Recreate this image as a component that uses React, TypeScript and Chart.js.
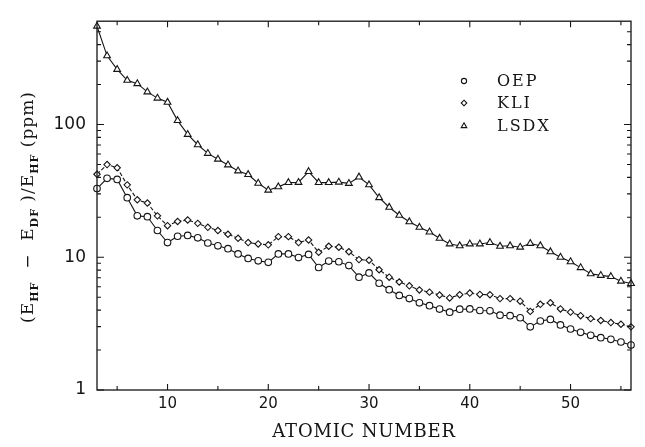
import React, { useEffect, useRef } from 'react';
import { Chart, registerables } from 'chart.js';

Chart.register(...registerables);

// ---------- data ----------
const atomicNumbers = [
  3, 4, 5, 6, 7, 8, 9, 10, 11, 12, 13, 14, 15, 16, 17, 18, 19, 20, 21, 22, 23, 24, 25, 26, 27, 28, 29,
  30, 31, 32, 33, 34, 35, 36, 37, 38, 39, 40, 41, 42, 43, 44, 45, 46, 47, 48, 49, 50, 51, 52, 53, 54, 55, 56,
];

const oepValues = [
  32.9, 39.3, 38.6, 28.1, 20.5, 20.2, 15.9, 12.9, 14.4, 14.6, 14.0, 12.8, 12.2, 11.6, 10.6, 9.8, 9.4, 9.16,
  10.6, 10.6, 9.95, 10.5, 8.37, 9.35, 9.25, 8.65, 7.08, 7.62, 6.37, 5.7, 5.16, 4.88, 4.54, 4.32, 4.07, 3.86,
  4.06, 4.08, 3.97, 3.95, 3.66, 3.63, 3.5, 2.99, 3.31, 3.4, 3.09, 2.88, 2.72, 2.58, 2.48, 2.41, 2.3, 2.18,
];

const kliValues = [
  42.2, 49.9, 47.2, 35.1, 27.1, 25.6, 20.5, 17.3, 18.6, 19.1, 18.0, 16.8, 15.9, 14.9, 13.9, 12.9, 12.6, 12.4,
  14.3, 14.3, 12.9, 13.5, 10.9, 12.1, 11.9, 11.0, 9.6, 9.5, 8.05, 7.08, 6.51, 6.09, 5.67, 5.46, 5.19, 4.94,
  5.22, 5.37, 5.25, 5.22, 4.88, 4.88, 4.67, 3.91, 4.42, 4.54, 4.08, 3.86, 3.63, 3.45, 3.34, 3.22, 3.13, 2.99,
];

const lsdxValues = [
  550, 329, 260, 215, 203, 176, 158, 147, 107, 84.2, 70.4, 60.6, 54.8, 49.6, 44.7, 42.0, 36.1, 32.0,
  33.9, 36.5, 36.6, 44.2, 36.5, 36.5, 36.8, 36.0, 40.2, 35.1, 28.1, 23.8, 20.7, 18.5, 16.8, 15.5, 13.9, 12.6,
  12.2, 12.6, 12.6, 12.9, 12.1, 12.2, 11.9, 12.7, 12.2, 11.0, 10.0, 9.25, 8.35, 7.5, 7.3, 7.15, 6.6, 6.34,
];

const seriesNames = ['OEP', 'KLI', 'LSDX'];

const xTickLabels = [10, 20, 30, 40, 50];
const xMinorTicks = [5, 15, 25, 35, 45, 55];
const yTickLabels = [1, 10, 100];
const yMinorTicks = [2, 3, 4, 5, 6, 7, 8, 9, 20, 30, 40, 50, 60, 70, 80, 90, 200, 300, 400, 500];

const xTitle = 'ATOMIC NUMBER';

const INK = '#151515';

function drawMarker(ctx: CanvasRenderingContext2D, style: string, x: number, y: number, r: number) {
  ctx.beginPath();
  if (style === 'circle') {
    ctx.arc(x, y, r, 0, Math.PI * 2);
  } else if (style === 'rectRot') {
    ctx.moveTo(x, y - r);
    ctx.lineTo(x + r, y);
    ctx.lineTo(x, y + r);
    ctx.lineTo(x - r, y);
    ctx.closePath();
  } else {
    const s = Math.sin(Math.PI / 3) * r;
    ctx.moveTo(x, y - r);
    ctx.lineTo(x + s, y + r / 2);
    ctx.lineTo(x - s, y + r / 2);
    ctx.closePath();
  }
  ctx.fillStyle = '#fff';
  ctx.fill();
  ctx.stroke();
}

const decorPlugin = {
  id: 'decor',
  afterDatasetsDraw(chart: any) {
    const ctx: CanvasRenderingContext2D = chart.ctx;
    const { left, right, top, bottom } = chart.chartArea;
    const xs = chart.scales.x;
    const ys = chart.scales.y;
    ctx.save();
    ctx.strokeStyle = INK;
    ctx.lineWidth = 1.3;
    ctx.strokeRect(left, top, right - left, bottom - top);
    ctx.lineWidth = 1.1;
    ctx.beginPath();
    const xt = (v: number, len: number) => {
      const px = xs.getPixelForValue(v);
      ctx.moveTo(px, bottom);
      ctx.lineTo(px, bottom - len);
      ctx.moveTo(px, top);
      ctx.lineTo(px, top + len);
    };
    const yt = (v: number, len: number) => {
      const py = ys.getPixelForValue(v);
      ctx.moveTo(left, py);
      ctx.lineTo(left + len, py);
      ctx.moveTo(right, py);
      ctx.lineTo(right - len, py);
    };
    xTickLabels.forEach((v) => xt(v, 6));
    xMinorTicks.forEach((v) => xt(v, 4));
    yTickLabels.forEach((v) => yt(v, 7));
    yMinorTicks.forEach((v) => yt(v, 4));
    ctx.stroke();
    ctx.restore();
  },
  afterDraw(chart: any) {
    const ctx: any = chart.ctx;
    const { left, right } = chart.chartArea;
    ctx.save();
    ctx.fillStyle = INK;
    ctx.strokeStyle = INK;

    // legend
    const styles = ['circle', 'rectRot', 'triangle'];
    const radii = [2.6, 2.8, 3.2];
    const legY = [81, 103, 126];
    ctx.lineWidth = 1.1;
    ctx.font = '16px "DejaVu Serif"';
    ctx.textBaseline = 'middle';
    ctx.textAlign = 'left';
    seriesNames.forEach((name, i) => {
      drawMarker(ctx, styles[i], 464, legY[i], radii[i]);
      ctx.fillStyle = INK;
      ctx.letterSpacing = '2px';
      ctx.fillText(name, 497, legY[i] + 0.5);
      ctx.letterSpacing = '0px';
    });

    // x title
    ctx.font = '18px "DejaVu Serif"';
    ctx.letterSpacing = '0.8px';
    ctx.textAlign = 'center';
    ctx.textBaseline = 'middle';
    ctx.fillText(xTitle, (left + right) / 2, 432);
    ctx.letterSpacing = '0px';

    // y title with subscripts
    const parts: { t: string; sub?: boolean }[] = [
      { t: '(' },
      { t: 'E' },
      { t: 'HF', sub: true },
      { t: '  \u2212  ' },
      { t: 'E' },
      { t: 'DF', sub: true },
      { t: ' )/' },
      { t: 'E' },
      { t: 'HF', sub: true },
      { t: ' (ppm)' },
    ];
    const mainFont = '17px "DejaVu Serif"';
    const subFont = 'bold 11px "DejaVu Serif"';
    ctx.letterSpacing = '1px';
    let total = 0;
    const widths = parts.map((p) => {
      ctx.font = p.sub ? subFont : mainFont;
      const w = ctx.measureText(p.t).width;
      total += w;
      return w;
    });
    ctx.translate(33, 207);
    ctx.rotate(-Math.PI / 2);
    ctx.textAlign = 'left';
    ctx.textBaseline = 'alphabetic';
    let cx = -total / 2;
    parts.forEach((p, i) => {
      ctx.font = p.sub ? subFont : mainFont;
      ctx.fillText(p.t, cx, p.sub ? 4.5 : 0);
      cx += widths[i];
    });
    ctx.letterSpacing = '0px';
    ctx.restore();
  },
};

function toPoints(vals: number[]) {
  return atomicNumbers.map((z, i) => ({ x: z, y: vals[i] }));
}

export default function App() {
  const ref = useRef<HTMLCanvasElement | null>(null);
  useEffect(() => {
    if (!ref.current) return;
    const common = {
      borderColor: INK,
      borderWidth: 1.1,
      pointBorderColor: INK,
      pointBackgroundColor: '#fff',
      pointBorderWidth: 1.1,
      tension: 0,
      clip: false as any,
      fill: false,
    };
    const chart = new Chart(ref.current, {
      type: 'line',
      data: {
        datasets: [
          { ...common, label: seriesNames[0], data: toPoints(oepValues), pointStyle: 'circle', pointRadius: 3.3 },
          { ...common, label: seriesNames[1], data: toPoints(kliValues), pointStyle: 'rectRot', pointRadius: 3.2, borderDash: [4, 2] },
          { ...common, label: seriesNames[2], data: toPoints(lsdxValues), pointStyle: 'triangle', pointRadius: 3.9 },
        ],
      },
      options: {
        animation: false,
        responsive: false,
        devicePixelRatio: 1,
        events: [],
        layout: { padding: { left: 0, right: 14, top: 7.5, bottom: 0 } },
        plugins: { legend: { display: false }, tooltip: { enabled: false } },
        scales: {
          x: {
            type: 'linear',
            min: 3,
            max: 56,
            afterBuildTicks: (s: any) => {
              s.ticks = xTickLabels.map((v) => ({ value: v }));
            },
            afterFit: (s: any) => {
              s.height = 57;
            },
            ticks: {
              autoSkip: false,
              maxRotation: 0,
              padding: 5,
              color: INK,
              font: { family: 'DejaVu Sans', size: 15 },
              callback: (v: any) => String(v),
            },
            grid: { display: false, drawTicks: false },
            border: { display: false },
          },
          y: {
            type: 'logarithmic',
            min: 1,
            max: 600,
            afterBuildTicks: (s: any) => {
              s.ticks = yTickLabels.map((v) => ({ value: v }));
            },
            afterFit: (s: any) => {
              s.width = 97;
            },
            ticks: {
              autoSkip: false,
              padding: 11,
              color: INK,
              font: { family: 'DejaVu Sans', size: 17 },
              callback: (v: any) => String(v),
            },
            grid: { display: false, drawTicks: false },
            border: { display: false },
          },
        },
      },
      plugins: [decorPlugin],
    } as any);
    return () => chart.destroy();
  }, []);
  return (
    <div style={{ position: 'absolute', left: 0, top: 0, width: 645, height: 447, background: '#fff' }}>
      <canvas ref={ref} width={645} height={447} style={{ display: 'block' }} />
    </div>
  );
}
